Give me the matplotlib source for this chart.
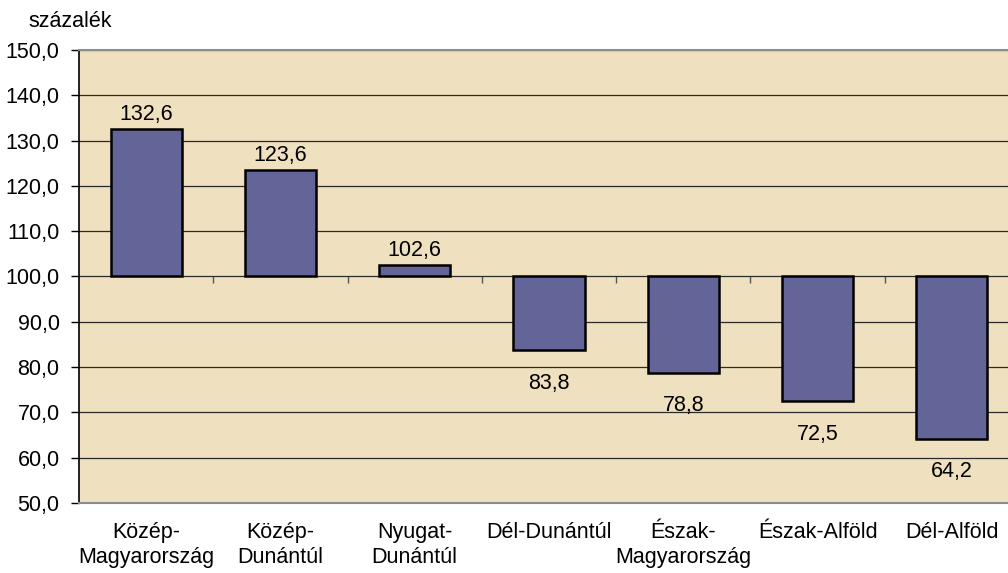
import matplotlib.pyplot as plt
from matplotlib.ticker import FuncFormatter, FixedLocator

# Data
regions = ["Közép-\nMagyarország", "Közép-\nDunántúl", "Nyugat-\nDunántúl",
           "Dél-Dunántúl", "Észak-\nMagyarország", "Észak-Alföld", "Dél-Alföld"]
values = [132.6, 123.6, 102.6, 83.8, 78.8, 72.5, 64.2]
base = 100.0

plt.rcParams["font.family"] = ["Liberation Sans", "DejaVu Sans"]
plt.rcParams["font.size"] = 15.5


def hu(v, pos=None):
    return f"{v:.1f}".replace(".", ",")


fig = plt.figure(figsize=(10.08, 5.73), dpi=100)
ax = fig.add_axes([0.0784, 0.1222, 0.9325, 0.7906])
ax.set_facecolor("#efe0bf")

x = list(range(len(values)))
heights = [v - base for v in values]
ax.bar(x, heights, bottom=base, width=0.53, color="#636598",
       edgecolor="black", linewidth=1.8, zorder=3)

for xi, v in zip(x, values):
    off = 10 if v >= base else -24
    ax.annotate(hu(v), (xi, v), xytext=(0, off), textcoords="offset points",
                ha="center", va="center")

ax.set_xlim(-0.5, len(values) - 0.5)
ax.set_ylim(50, 150)
ax.set_yticks(range(50, 151, 10))
ax.yaxis.set_major_formatter(FuncFormatter(hu))
ax.grid(axis="y", color="#2a2a2a", linewidth=0.9, zorder=1)
ax.set_axisbelow(True)

ax.set_xticks(x)
ax.set_xticklabels(regions, linespacing=1.2, va="top")
ax.tick_params(axis="x", length=0, pad=14)
ax.tick_params(axis="y", length=6, width=1, color="black", pad=8)

for side in ["top", "bottom"]:
    ax.spines[side].set_color("#8c8c8c")
    ax.spines[side].set_linewidth(1.5)
ax.spines["right"].set_visible(False)
ax.spines["left"].set_color("black")
ax.spines["left"].set_linewidth(1.2)

# category axis crossing at 100
sec = ax.secondary_xaxis(0.5)
sec.xaxis.set_major_locator(FixedLocator([i + 0.5 for i in range(len(values) - 1)]))
sec.tick_params(axis="x", direction="in", length=5, width=1, color="#555555",
                labelbottom=False, labeltop=False)
sec.spines["bottom"].set_color("#2a2a2a")
sec.spines["bottom"].set_linewidth(0.9)
sec.spines["top"].set_visible(False)

fig.text(0.028, 0.963, "százalék", va="center", ha="left")

fig.savefig("out.png", dpi=100)
